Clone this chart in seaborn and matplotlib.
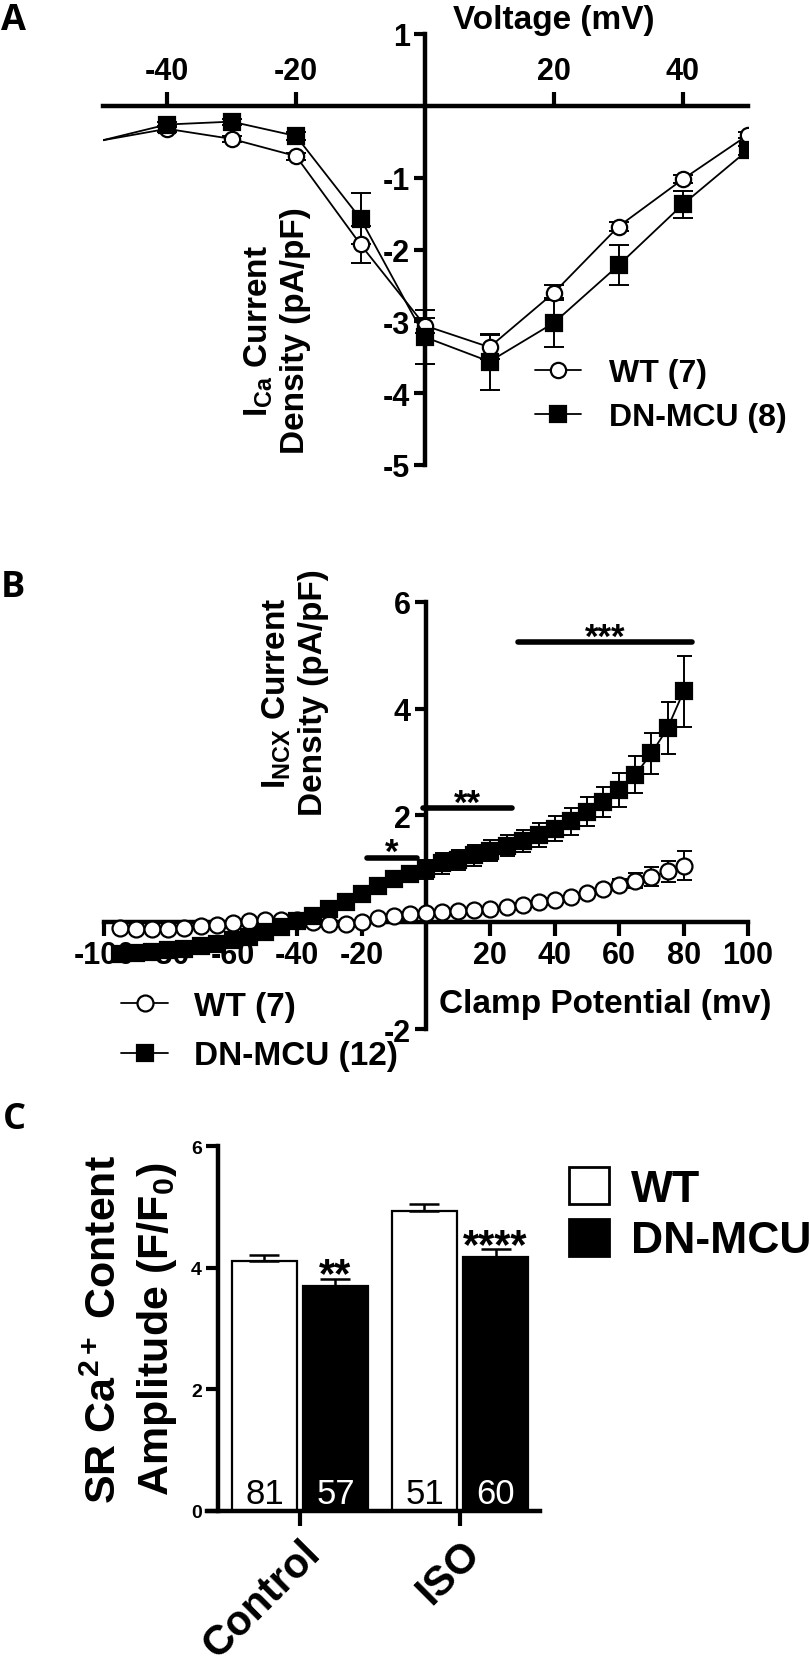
import numpy as np
import pandas as pd
import matplotlib
matplotlib.use('Agg')
import matplotlib.pyplot as plt
import seaborn as sns
from matplotlib.patches import Patch

# ---- panel A: I_Ca current density vs voltage (mean, sem)
volt_a = [-60, -40, -30, -20, -10, 0, 10, 20, 30, 40, 50]
wt_ica = [-0.64, -0.32, -0.46, -0.70, -1.93, -3.06, -3.36, -2.60, -1.68, -1.02, -0.41]
wt_ica_sem = [0.0, 0.04, 0.04, 0.05, 0.26, 0.10, 0.17, 0.10, 0.06, 0.06, 0.04]
dn_ica = [-0.70, -0.26, -0.22, -0.42, -1.57, -3.22, -3.56, -3.02, -2.22, -1.37, -0.62]
dn_ica_sem = [0.0, 0.04, 0.04, 0.05, 0.36, 0.38, 0.39, 0.34, 0.28, 0.19, 0.06]

# ---- panel B: I_NCX current density vs clamp potential
volt_b = [-95, -90, -85, -80, -75, -70, -65, -60, -55, -50, -45, -40, -35, -30, -25, -20, -15, -10, -5,
          0, 5, 10, 15, 20, 25, 30, 35, 40, 45, 50, 55, 60, 65, 70, 75, 80]
wt_incx = [-0.10, -0.12, -0.12, -0.12, -0.11, -0.08, -0.05, -0.02, 0.02, 0.04, 0.05, 0.04, 0.00, -0.04, -0.04, 0.00, 0.07, 0.12, 0.15,
           0.17, 0.19, 0.20, 0.22, 0.25, 0.29, 0.33, 0.37, 0.42, 0.48, 0.55, 0.62, 0.70, 0.78, 0.85, 0.95, 1.06]
wt_incx_sem = [0.04, 0.04, 0.04, 0.04, 0.04, 0.04, 0.04, 0.04, 0.04, 0.04, 0.04, 0.04, 0.04, 0.04, 0.04, 0.04, 0.04, 0.04, 0.04,
               0.04, 0.04, 0.04, 0.04, 0.04, 0.04, 0.05, 0.05, 0.05, 0.06, 0.07, 0.08, 0.10, 0.14, 0.18, 0.20, 0.27]
dn_incx = [-0.60, -0.58, -0.56, -0.53, -0.50, -0.45, -0.40, -0.34, -0.28, -0.19, -0.09, 0.03, 0.12, 0.25, 0.37, 0.53, 0.68, 0.80, 0.90,
           0.99, 1.10, 1.17, 1.25, 1.34, 1.43, 1.52, 1.63, 1.75, 1.89, 2.07, 2.25, 2.47, 2.76, 3.16, 3.63, 4.32]
dn_incx_sem = [0.10, 0.10, 0.10, 0.10, 0.10, 0.10, 0.10, 0.10, 0.10, 0.10, 0.10, 0.12, 0.12, 0.12, 0.12, 0.12, 0.15, 0.15, 0.15,
               0.18, 0.19, 0.19, 0.20, 0.20, 0.20, 0.21, 0.22, 0.23, 0.25, 0.27, 0.29, 0.32, 0.35, 0.39, 0.49, 0.66]
# significance bars: (stars, x from, x to, bar level)
sig_b = [('*', -18.3, -2.8, 1.21), ('**', -1.0, 26.7, 2.14), ('***', 28.6, 82.6, 5.25)]

# ---- panel C: SR Ca content
conditions = ['Control', 'ISO']
genotypes = ['WT', 'DN-MCU']
amp_wt = [4.10, 4.93]
amp_dn = [3.70, 4.18]
sem_wt = [0.10, 0.11]
sem_dn = [0.12, 0.12]
n_wt = [81, 51]
n_dn = [57, 60]
stars_dn = ['**', '****']

W, H = 810, 1665
def fx(px): return px / W
def fy(py): return 1 - py / H

sns.set_style('ticks')
plt.rcParams['font.family'] = ['Liberation Sans', 'DejaVu Sans']
plt.rcParams['font.weight'] = 'bold'
plt.rcParams['axes.unicode_minus'] = False
plt.rcParams['mathtext.fontset'] = 'custom'
plt.rcParams['mathtext.rm'] = 'Liberation Sans:bold'
plt.rcParams['mathtext.it'] = 'Liberation Sans:bold'
plt.rcParams['mathtext.bf'] = 'Liberation Sans:bold'
plt.rcParams['mathtext.default'] = 'rm'
for k in ['axes.edgecolor', 'xtick.color', 'ytick.color', 'text.color', 'axes.labelcolor']:
    plt.rcParams[k] = 'black'

fig = plt.figure(figsize=(8.1, 16.65), dpi=100)

def draw_series(ax, x, y, err, marker, face, ms, cap, label):
    ax.errorbar(x, y, yerr=err, fmt='none', ecolor='black', elinewidth=1.4,
                capsize=cap, capthick=1.4, zorder=2)
    sns.lineplot(x=x, y=y, ax=ax, color='black', linewidth=1.3, marker=marker,
                 markersize=ms, markerfacecolor=face, markeredgecolor='black',
                 markeredgewidth=1.6, label=label, zorder=3, legend=False)

# ================= A =================
ax = fig.add_axes([fx(102.5), fy(466), 645 / W, 431 / H])
draw_series(ax, volt_a, wt_ica, wt_ica_sem, 'o', 'white', 11, 7, 'WT (7)')
draw_series(ax, volt_a, dn_ica, dn_ica_sem, 's', 'black', 11, 7, 'DN-MCU (8)')
ax.set_xlim(-50, 50)
ax.set_ylim(-5, 1)
ax.spines['top'].set_position(('data', 0))
ax.spines['left'].set_position(('data', 0))
ax.spines['bottom'].set_visible(False)
ax.spines['right'].set_visible(False)
for s in ['top', 'left']:
    ax.spines[s].set_linewidth(3.2)
ax.xaxis.set_ticks_position('top')
ax.yaxis.set_ticks_position('left')
ax.set_xticks([-40, -20, 20, 40])
ax.set_yticks([1, -1, -2, -3, -4, -5])
ax.tick_params(axis='both', direction='out', width=3, labelsize=22)
ax.tick_params(axis='x', length=10, pad=4)
ax.tick_params(axis='y', length=8, pad=3)
ax.set_xlabel('')
ax.set_ylabel('')
h, l = ax.get_legend_handles_labels()
ax.legend(h, l, loc='center left', bbox_to_anchor=(fx(535), fy(396)), bbox_transform=fig.transFigure,
          frameon=False, fontsize=23, handlelength=1.44, handletextpad=0.87, borderpad=0,
          borderaxespad=0, labelspacing=0.45)
fig.text(fx(554), fy(21), 'Voltage (mV)', fontsize=24, ha='center', va='center')
fig.text(fx(277), fy(331), 'I$_{Ca}$ Current\nDensity (pA/pF)', fontsize=24, rotation=90,
         ha='center', va='center', multialignment='center')

# ================= B =================
ax = fig.add_axes([fx(104), fy(1030), 644 / W, 427.3 / H])
draw_series(ax, volt_b, wt_incx, wt_incx_sem, 'o', 'white', 11.5, 5.4, 'WT (7)')
draw_series(ax, volt_b, dn_incx, dn_incx_sem, 's', 'black', 11, 5.4, 'DN-MCU (12)')
ax.set_xlim(-100, 100)
ax.set_ylim(-2, 6)
ax.spines['bottom'].set_position(('data', 0))
ax.spines['left'].set_position(('data', 0))
ax.spines['top'].set_visible(False)
ax.spines['right'].set_visible(False)
for s in ['bottom', 'left']:
    ax.spines[s].set_linewidth(3.2)
ax.set_xticks([-100, -80, -60, -40, -20, 20, 40, 60, 80, 100])
ax.set_yticks([-2, 2, 4, 6])
ax.tick_params(axis='both', direction='out', width=3, labelsize=22)
ax.tick_params(axis='x', length=10, pad=3)
ax.tick_params(axis='y', length=8, pad=3)
ax.set_xlabel('')
ax.set_ylabel('')
for stars, x0, x1, lev in sig_b:
    ax.plot([x0, x1], [lev, lev], color='black', lw=4, solid_capstyle='round', zorder=4)
    ax.text((x0 + x1) / 2, lev - 0.09, stars, fontsize=25, ha='center', va='baseline')
h, l = ax.get_legend_handles_labels()
ax.legend(h, l, loc='center left', bbox_to_anchor=(fx(121), fy(1032)), bbox_transform=fig.transFigure,
          frameon=False, fontsize=24, handlelength=1.41, handletextpad=0.78, borderpad=0,
          borderaxespad=0, labelspacing=0.55)
fig.text(fx(439), fy(1005), 'Clamp Potential (mv)', fontsize=24, ha='left', va='center')
fig.text(fx(295), fy(693), 'I$_{NCX}$ Current\nDensity (pA/pF)', fontsize=24, rotation=90,
         ha='center', va='center', multialignment='center')

# ================= C =================
ax = fig.add_axes([fx(207), fy(1511.7), 333 / W, 364.7 / H])
df_c = pd.DataFrame({
    'cond': conditions + conditions,
    'geno': [genotypes[0]] * 2 + [genotypes[1]] * 2,
    'amp': amp_wt + amp_dn,
})
sns.barplot(data=df_c, x='cond', y='amp', hue='geno', hue_order=genotypes, order=conditions,
            palette={'WT': 'white', 'DN-MCU': 'black'}, edgecolor='black', linewidth=1.6,
            width=0.888, gap=0.086, errorbar=None, legend=False, ax=ax)
bars_wt, bars_dn = ax.containers[0], ax.containers[1]
for bars, sems, ns, txtcol in [(bars_wt, sem_wt, n_wt, 'black'), (bars_dn, sem_dn, n_dn, 'white')]:
    xs = [p.get_x() + p.get_width() / 2 for p in bars]
    hs = [p.get_height() for p in bars]
    ax.errorbar(xs, hs, yerr=[np.zeros(len(sems)), sems], fmt='none', ecolor='black',
                elinewidth=1.8, capsize=10.8, capthick=1.8, zorder=1)
    for x, n in zip(xs, ns):
        ax.text(x, 0.12, str(n), fontsize=25, fontweight='normal', color=txtcol,
                ha='center', va='baseline')
for p, s in zip(bars_dn, stars_dn):
    ax.text(p.get_x() + p.get_width() / 2, p.get_height() + 0.0, s, fontsize=30,
            ha='center', va='baseline')
ax.set_xlim(-0.581, 1.5)
ax.set_ylim(0, 6)
ax.spines['left'].set_position(('data', -0.513))
ax.spines['top'].set_visible(False)
ax.spines['right'].set_visible(False)
for s in ['bottom', 'left']:
    ax.spines[s].set_linewidth(3.2)
ax.set_yticks([0, 2, 4, 6])
ax.set_xticks([0, 1])
ax.set_xticklabels(conditions, rotation=45, ha='right', rotation_mode='anchor',
                   fontsize=30, fontweight='bold')
ax.tick_params(axis='y', direction='out', width=3, length=8.6, labelsize=14, pad=3)
ax.tick_params(axis='x', direction='out', width=3, length=10.8, pad=5)
ax.set_xlabel('')
ax.set_ylabel('')
handles_c = [Patch(facecolor='white', edgecolor='black', linewidth=2),
             Patch(facecolor='black', edgecolor='black', linewidth=2)]
fig.legend(handles_c, genotypes, loc='upper left', bbox_to_anchor=(fx(569), fy(1168)),
           frameon=False, fontsize=32, handlelength=0.9, handleheight=0.9,
           handletextpad=0.5, borderpad=0, borderaxespad=0, labelspacing=0.2)
fig.text(fx(132), fy(1329), 'SR Ca$^{2+}$ Content\nAmplitude (F/F$_0$)', fontsize=31,
         rotation=90, ha='center', va='center', multialignment='center', linespacing=1.3)

# panel letters
for letter, px, py in [('A', 1, 3), ('B', 1, 570), ('C', 3, 1102)]:
    fig.text(fx(px), fy(py), letter, fontsize=26, fontweight='bold', ha='left', va='top',
             family=['Open Sans', 'DejaVu Sans'])

fig.savefig('out.png', dpi=100)
